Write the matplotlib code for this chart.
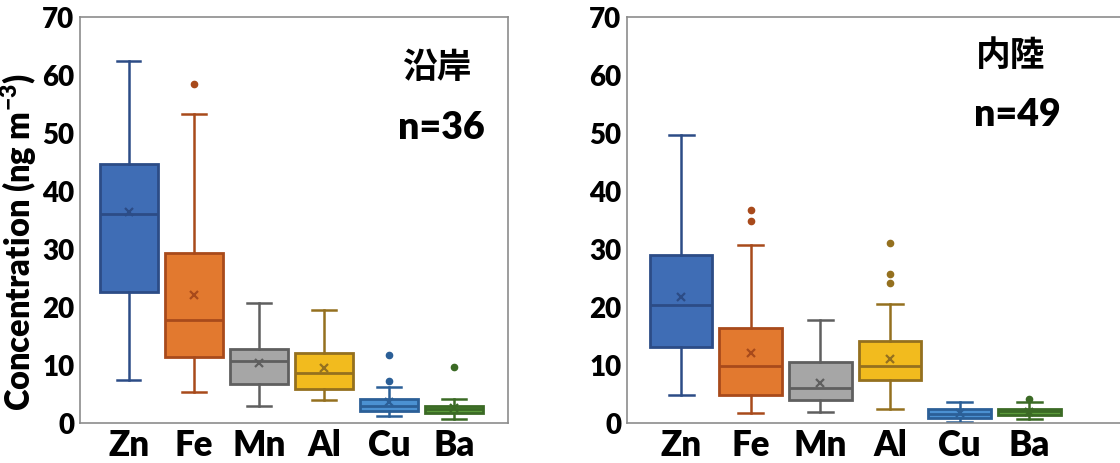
import matplotlib
matplotlib.use('Agg')
import matplotlib.pyplot as plt

plt.rcParams['font.family'] = ['Lato', 'Noto Sans CJK JP', 'DejaVu Sans']
plt.rcParams['font.weight'] = 'heavy'
plt.rcParams['mathtext.fontset'] = 'custom'
plt.rcParams['mathtext.rm'] = 'Lato:heavy'
plt.rcParams['mathtext.bf'] = 'Lato:heavy'
plt.rcParams['mathtext.it'] = 'Lato:heavy'
plt.rcParams['mathtext.default'] = 'bf'

elements = ['Zn', 'Fe', 'Mn', 'Al', 'Cu', 'Ba']
face_cols = ['#3f6db5', '#e2792f', '#a6a6a6', '#f2bb1e', '#4b91d2', '#5b9b3b']
edge_cols = ['#2c4c86', '#a84a1b', '#5f5f5f', '#94701f', '#2b5f97', '#3b6a25']

# coastal (沿岸), n=36
c_lo = [7.5, 5.3, 3.0, 4.0, 1.15, 0.75]
c_q1 = [22.6, 11.4, 6.8, 5.8, 2.1, 1.7]
c_med = [36.0, 17.8, 10.7, 8.6, 2.9, 2.5]
c_q3 = [44.6, 29.3, 12.8, 12.1, 4.1, 3.0]
c_hi = [62.5, 53.3, 20.7, 19.4, 6.2, 4.2]
c_mean = [36.4, 22.1, 10.3, 9.4, 3.6, 2.6]
c_fliers = [[], [58.5], [], [], [11.8, 7.2], [9.7]]

# inland (内陸), n=49
i_lo = [4.9, 1.8, 1.9, 2.4, 0.2, 0.7]
i_q1 = [13.1, 4.9, 3.9, 7.4, 0.9, 1.3]
i_med = [20.3, 9.8, 6.1, 9.8, 1.6, 2.0]
i_q3 = [28.9, 16.3, 10.5, 14.1, 2.4, 2.5]
i_hi = [49.7, 30.7, 17.8, 20.6, 3.6, 3.6]
i_mean = [21.7, 12.1, 6.9, 11.1, 1.8, 1.9]
i_fliers = [[], [36.7, 34.8], [], [31.1, 25.7, 24.1], [], [4.1]]


def draw_panel(ax, lo, q1, med, q3, hi, mean, fliers, xlim):
    for i in range(len(elements)):
        st = [dict(whislo=lo[i], q1=q1[i], med=med[i], q3=q3[i], whishi=hi[i],
                   mean=mean[i], fliers=fliers[i], label=elements[i])]
        ec = edge_cols[i]
        ax.bxp(st, positions=[i], widths=0.9, patch_artist=True, showmeans=True,
               manage_ticks=False,
               boxprops=dict(facecolor=face_cols[i], edgecolor=ec, linewidth=2.0),
               medianprops=dict(color=ec, linewidth=2.0),
               whiskerprops=dict(color=ec, linewidth=1.8),
               capprops=dict(color=ec, linewidth=1.8),
               capwidths=0.36,
               meanprops=dict(marker='x', markeredgecolor=ec, markersize=6,
                              markeredgewidth=1.6),
               flierprops=dict(marker='o', markerfacecolor=ec, markeredgecolor=ec,
                               markersize=4.5))
    ax.set_xticks(range(len(elements)))
    ax.set_xticklabels(elements, fontsize=25, fontweight='heavy')
    ax.set_xlim(xlim)
    ax.set_ylim(0, 70)
    ax.set_yticks(range(0, 71, 10))
    ax.tick_params(axis='y', length=0, pad=4, labelsize=20)
    ax.tick_params(axis='x', length=0, pad=4)
    for s in ax.spines.values():
        s.set_color('#8c8c8c')
        s.set_linewidth(1.2)


fig = plt.figure(figsize=(11.2, 4.63), dpi=100)
ax1 = fig.add_axes([80 / 1120, 40 / 463, 428 / 1120, 406 / 463])
ax2 = fig.add_axes([627 / 1120, 40 / 463, 504 / 1120, 406 / 463])

draw_panel(ax1, c_lo, c_q1, c_med, c_q3, c_hi, c_mean, c_fliers, (-0.75, 5.83))
draw_panel(ax2, i_lo, i_q1, i_med, i_q3, i_hi, i_mean, i_fliers, (-0.776, 6.46))

ax1.set_ylabel('Concentration (ng m$^{-3}$)', fontsize=23.5, fontweight='heavy')
ax1.yaxis.set_label_coords(-0.096, 0.445)

ax1.text(0.834, 0.874, '沿岸', transform=ax1.transAxes, ha='center', va='center',
         fontsize=25, fontweight='bold')
ax1.text(0.845, 0.727, 'n=36', transform=ax1.transAxes, ha='center', va='center',
         fontsize=27, fontweight='heavy')
ax2.text(0.761, 0.906, '内陸', transform=ax2.transAxes, ha='center', va='center',
         fontsize=25, fontweight='bold')
ax2.text(0.774, 0.759, 'n=49', transform=ax2.transAxes, ha='center', va='center',
         fontsize=27, fontweight='heavy')

fig.savefig('out.png', dpi=100)
